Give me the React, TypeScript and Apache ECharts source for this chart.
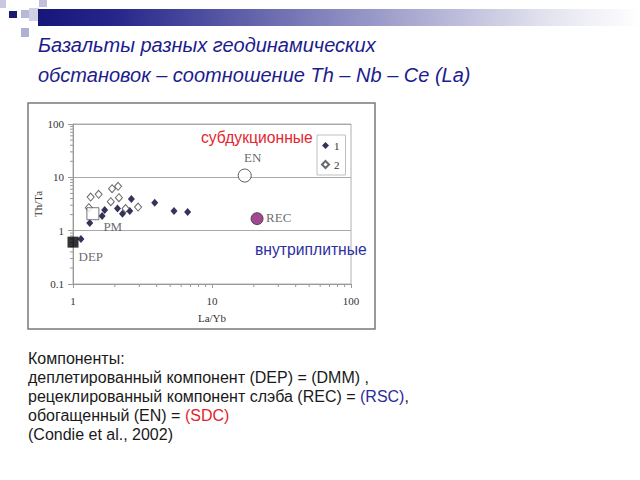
import React, { useEffect, useRef } from "react";
import * as echarts from "echarts";

// ---- data ----
const series1Name = "1";
const series1X = [1.32, 1.62, 1.69, 2.09, 2.27, 2.56, 2.63, 3.87, 5.33, 6.68, 1.14];
const series1Y = [1.39, 1.88, 2.43, 2.59, 2.08, 2.33, 3.92, 3.35, 2.33, 2.23, 0.7];

const series2Name = "2";
const series2X = [1.34, 1.53, 1.91, 2.11, 1.87, 2.14, 2.94, 2.39, 1.3];
const series2Y = [4.27, 4.8, 6.14, 6.78, 3.5, 4.16, 2.77, 2.59, 2.7];

const componentNames = ["DEP", "PM", "EN", "REC"];
const componentX = [1.0, 1.39, 17.2, 21.1];
const componentY = [0.61, 2.08, 10.8, 1.68];

const xMinorTicks = [2, 3, 4, 5, 6, 7, 8, 9, 20, 30, 40, 50, 60, 70, 80, 90];
const yMinorTicks = [0.2, 0.3, 0.4, 0.5, 0.6, 0.7, 0.8, 0.9, 2, 3, 4, 5, 6, 7, 8, 9, 20, 30, 40, 50, 60, 70, 80, 90];

const titleLines = ["Базальты разных геодинамических", "обстановок – соотношение Th – Nb – Ce (La)"];
const zoneTop = "субдукционные";
const zoneBottom = "внутриплитные";
const xAxisName = "La/Yb";
const yAxisName = "Th/Ta";

const SERIF = "'Liberation Serif', 'Times New Roman', serif";
const SANS = "'Liberation Sans', Arial, sans-serif";

export default function App() {
  const ref = useRef<HTMLDivElement>(null);

  useEffect(() => {
    if (!ref.current) return;
    const chart = echarts.init(ref.current, undefined, { renderer: "svg" });

    const compStyles: Record<string, any> = {
      DEP: {
        symbol: "rect",
        symbolSize: 11,
        itemStyle: { color: "#000000", borderColor: "#000", borderWidth: 0 },
        label: { position: "right", distance: 0, offset: [0, 14] },
      },
      PM: {
        symbol: "rect",
        symbolSize: 12,
        itemStyle: { color: "#ffffff", borderColor: "#555", borderWidth: 1 },
        label: { position: "right", distance: 4, offset: [0, 12.5] },
      },
      EN: {
        symbol: "circle",
        symbolSize: 13,
        itemStyle: { color: "#ffffff", borderColor: "#333", borderWidth: 1 },
        label: { position: "top", distance: 5, offset: [8, 0] },
      },
      REC: {
        symbol: "circle",
        symbolSize: 12,
        itemStyle: { color: "#8a1a78", borderColor: "#333", borderWidth: 1 },
        label: { position: "right", distance: 2.5, offset: [0, -1.5] },
      },
    };

    const compData = componentNames.map((n, i) => {
      const s = compStyles[n];
      return {
        name: n,
        value: [componentX[i], componentY[i]],
        symbol: s.symbol,
        symbolSize: s.symbolSize,
        itemStyle: s.itemStyle,
        label: {
          show: true,
          formatter: n,
          fontFamily: SERIF,
          fontSize: 13,
          color: "#444",
          ...s.label,
        },
      };
    });

    const FONT_B = `16px ${SANS}`;
    const bottomRich = {
      a: { font: FONT_B, fill: "#1a1a1a" },
      b: { font: FONT_B, fill: "#2b2b9c" },
      r: { font: FONT_B, fill: "#e0242c" },
    };
    const bottomLines = [
      "{a|Компоненты:}",
      "{a|деплетированный компонент (DEP) = (DMM) ,}",
      "{a|рецеклированный компонент слэба (REC) = }{b|(RSC)}{a|,}",
      "{a|обогащенный (EN) = }{r|(SDC)}",
      "{a|(Condie et al., 2002)}",
    ];

    const option: any = {
      animation: false,
      backgroundColor: "#ffffff",
      grid: {
        left: 73,
        top: 124,
        right: 289,
        bottom: 196,
        show: true,
        borderColor: "#b0b0b0",
        borderWidth: 1,
        backgroundColor: "transparent",
      },
      legend: {
        data: [series1Name, series2Name],
        orient: "vertical",
        left: 317,
        top: 135,
        itemWidth: 7,
        itemHeight: 7,
        itemGap: 8,
        padding: [5, 6, 5, 4],
        borderColor: "#c0c0c0",
        borderWidth: 1,
        textStyle: { fontFamily: SERIF, fontSize: 11, color: "#333" },
      },
      xAxis: {
        type: "log",
        logBase: 10,
        min: 1,
        max: 100,
        name: xAxisName,
        nameLocation: "middle",
        nameGap: 28,
        nameTextStyle: { fontFamily: SERIF, fontSize: 11, color: "#333" },
        axisLine: { show: true, lineStyle: { color: "#999", width: 1 } },
        axisTick: { show: true, length: 4, lineStyle: { color: "#999" } },
        axisLabel: { fontFamily: SERIF, fontSize: 11, color: "#333", margin: 11 },
        splitLine: { show: false },
      },
      yAxis: {
        type: "log",
        logBase: 10,
        min: 0.1,
        max: 100,
        name: yAxisName,
        nameLocation: "middle",
        nameGap: 29,
        nameRotate: 90,
        nameTextStyle: { fontFamily: SERIF, fontSize: 11, color: "#333" },
        axisLine: { show: true, lineStyle: { color: "#999", width: 1 } },
        axisTick: { show: true, length: 5, lineStyle: { color: "#999" } },
        axisLabel: { fontFamily: SERIF, fontSize: 11, color: "#333", margin: 9 },
        splitLine: { show: true, lineStyle: { color: "#aaa", width: 1 } },
      },
      series: [
        {
          type: "custom",
          silent: true,
          clip: false,
          data: xMinorTicks.map((v) => [v]),
          renderItem: (params: any, api: any) => {
            const p = api.coord([api.value(0), 0.1]);
            return {
              type: "line",
              shape: { x1: p[0], y1: p[1], x2: p[0], y2: p[1] + 3 },
              style: { stroke: "#999", lineWidth: 1 },
            };
          },
        },
        {
          type: "custom",
          silent: true,
          clip: false,
          data: yMinorTicks.map((v) => [v]),
          renderItem: (params: any, api: any) => {
            const p = api.coord([1, api.value(0)]);
            return {
              type: "line",
              shape: { x1: p[0] - 3, y1: p[1], x2: p[0], y2: p[1] },
              style: { stroke: "#999", lineWidth: 1 },
            };
          },
          encode: { x: -1, y: 0 },
        },
        {
          name: series1Name,
          type: "scatter",
          symbol: "diamond",
          symbolSize: [7, 8],
          clip: false,
          itemStyle: { color: "#000033" },
          data: series1X.map((x, i) => [x, series1Y[i]]),
          z: 3,
        },
        {
          name: series2Name,
          type: "scatter",
          symbol: "diamond",
          symbolSize: [7, 8],
          clip: false,
          itemStyle: { color: "#ffffff", borderColor: "#444", borderWidth: 1 },
          data: series2X.map((x, i) => [x, series2Y[i]]),
          z: 3,
        },
        {
          name: "components",
          type: "scatter",
          clip: false,
          data: compData,
          z: 4,
        },
      ],
      graphic: [
        // header decoration
        { type: "rect", shape: { x: 0, y: 0, width: 6, height: 8 }, style: { fill: "#c8c8e0" } },
        { type: "rect", shape: { x: 39, y: 0, width: 8, height: 7 }, style: { fill: "#c0c0dc" } },
        { type: "rect", shape: { x: 9, y: 11, width: 8, height: 7 }, style: { fill: "#1a1a70" } },
        { type: "rect", shape: { x: 21, y: 10, width: 8, height: 8 }, style: { fill: "#b8b8d8" } },
        { type: "rect", shape: { x: 29, y: 8, width: 10, height: 13 }, style: { fill: "#d0d0e4" } },
        { type: "rect", shape: { x: 21, y: 28, width: 8, height: 9 }, style: { fill: "#b0b0d4" } },
        {
          type: "rect",
          shape: { x: 38, y: 9, width: 602, height: 17 },
          style: {
            fill: new echarts.graphic.LinearGradient(0, 0, 1, 0, [
              { offset: 0, color: "#16167a" },
              { offset: 0.12, color: "#24248a" },
              { offset: 0.5, color: "#8a8ac0" },
              { offset: 0.85, color: "#e4e4f0" },
              { offset: 1, color: "#ffffff" },
            ]),
          },
        },
        // title
        {
          type: "text",
          x: 38,
          y: 45,
          style: { text: titleLines[0], font: `italic 20px ${SANS}`, fill: "#1c1c8c", verticalAlign: "middle" },
        },
        {
          type: "text",
          x: 38,
          y: 75,
          style: { text: titleLines[1], font: `italic 20px ${SANS}`, fill: "#1c1c8c", verticalAlign: "middle" },
        },
        // chart frame
        {
          type: "rect",
          shape: { x: 28, y: 103, width: 347, height: 226 },
          style: { fill: "none", stroke: "#7a7a7a", lineWidth: 1.5 },
          silent: true,
          z: -1,
        },
        // zone annotations
        {
          type: "text",
          x: 201,
          y: 137,
          style: { text: zoneTop, font: `15.7px ${SANS}`, fill: "#e4262e", verticalAlign: "middle" },
          z: 10,
        },
        {
          type: "text",
          x: 255,
          y: 249,
          style: { text: zoneBottom, font: `15.7px ${SANS}`, fill: "#2e2ea0", verticalAlign: "middle" },
          z: 10,
        },
        // bottom notes
        ...bottomLines.map((t, i) => ({
          type: "text",
          x: 28,
          y: 358 + i * 19,
          style: { text: t, rich: bottomRich, verticalAlign: "middle" },
        })),
      ],
    };

    chart.setOption(option);
    return () => chart.dispose();
  }, []);

  return (
    <div
      ref={ref}
      style={{ position: "fixed", left: 0, top: 0, width: 640, height: 480, background: "#fff" }}
    />
  );
}
